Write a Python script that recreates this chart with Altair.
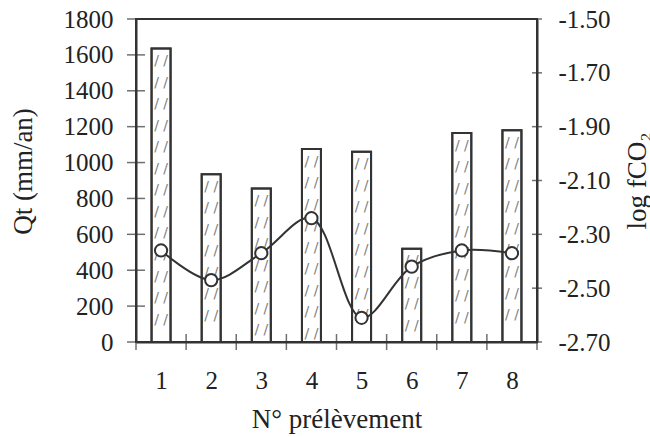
import altair as alt
import pandas as pd

# ---- data ----
samples = [1, 2, 3, 4, 5, 6, 7, 8]
qt = [1635, 935, 855, 1075, 1060, 520, 1165, 1180]            # Qt (mm/an), bars
log_fco2 = [-2.36, -2.47, -2.37, -2.24, -2.61, -2.42, -2.36, -2.37]  # line
qt_ticks = [0, 200, 400, 600, 800, 1000, 1200, 1400, 1600, 1800]
fco2_ticks = [-1.5, -1.7, -1.9, -2.1, -2.3, -2.5, -2.7]
x_bounds = [0.5, 1.5, 2.5, 3.5, 4.5, 5.5, 6.5, 7.5, 8.5]

FONT = "Liberation Serif"
INK = "#333333"
TXT = "#222222"
LBL = 25
TTL = 27

df = pd.DataFrame({"sample": samples, "qt": qt, "fco2": log_fco2})

# hatch rows inside each bar (decoration of the bar fill)
hatch_rows = []
for s, v in zip(samples, qt):
    y = v - 70
    while y > 30:
        hatch_rows.append({"sample": s, "y": y})
        y -= 120
df_hatch = pd.DataFrame(hatch_rows)

df_lt = pd.DataFrame({"x": [x_bounds[0]] * len(qt_ticks), "y": qt_ticks})
df_bt = pd.DataFrame({"x": x_bounds, "y": [qt_ticks[0]] * len(x_bounds)})
df_rt = pd.DataFrame({"x": [x_bounds[-1]] * len(fco2_ticks), "y": fco2_ticks})

xscale = alt.Scale(domain=[x_bounds[0], x_bounds[-1]], nice=False, zero=False, padding=0)
yl_scale = alt.Scale(domain=[qt_ticks[0], qt_ticks[-1]], nice=False, zero=False)
yr_scale = alt.Scale(domain=[fco2_ticks[-1], fco2_ticks[0]], nice=False, zero=False)

x_axis = alt.Axis(
    values=samples, format="d", ticks=False, grid=False, labelOverlap=False,
    domainColor=INK, domainWidth=2, labelAngle=0,
    labelFont=FONT, labelFontSize=LBL, labelColor=TXT, labelPadding=26,
    title="N° prélèvement", titleFont=FONT, titleFontSize=TTL,
    titleFontWeight="normal", titleColor=TXT,
    titleY=85, titleBaseline="alphabetic",
)
yl_axis = alt.Axis(
    values=qt_ticks, format="d", ticks=False, grid=False, labelOverlap=False,
    domainColor=INK, domainWidth=2,
    labelFont=FONT, labelFontSize=LBL, labelColor=TXT, labelPadding=23,
    title="Qt (mm/an)", titleFont=FONT, titleFontSize=TTL,
    titleFontWeight="normal", titleColor=TXT,
    titleAngle=270, titleX=-113, titleY=152, titleBaseline="middle",
)
yr_axis = alt.Axis(
    orient="right", values=fco2_ticks, ticks=False, grid=False, labelOverlap=False,
    labelExpr="'-' + format(-datum.value, '.2f')",
    domainColor=INK, domainWidth=2,
    labelFont=FONT, labelFontSize=LBL, labelColor=TXT, labelPadding=21,
    title="log fCO\u2082", titleFont=FONT, titleFontSize=TTL,
    titleFontWeight="normal", titleColor=TXT,
    titleAngle=270, titleX=100, titleBaseline="middle",
)


def lx(field):
    return alt.X(field, scale=xscale, axis=x_axis)


def ly(field):
    return alt.Y(field, scale=yl_scale, axis=yl_axis)


def ry(field):
    return alt.Y(field, scale=yr_scale, axis=yr_axis)


bars = alt.Chart(df).mark_bar(size=19, fill="white", stroke=INK, strokeWidth=2).encode(
    x=lx("sample:Q"), y=ly("qt:Q"),
)
hatch = alt.Chart(df_hatch).mark_text(
    text="/ /", font="DejaVu Sans", fontSize=14, color="#808080", baseline="middle"
).encode(x=lx("sample:Q"), y=ly("y:Q"))
bars_outline = alt.Chart(df).mark_bar(size=19, fill="transparent", stroke=INK, strokeWidth=2).encode(
    x=lx("sample:Q"), y=ly("qt:Q"),
)
left_ticks = alt.Chart(df_lt).mark_tick(orient="horizontal", size=18, thickness=1.5, color=INK).encode(
    x=lx("x:Q"), y=ly("y:Q"),
)
bottom_ticks = alt.Chart(df_bt).mark_tick(orient="vertical", size=16, thickness=1.5, color=INK).encode(
    x=lx("x:Q"), y=ly("y:Q"),
)
left = alt.layer(bars, hatch, bars_outline, left_ticks, bottom_ticks)

line = alt.Chart(df).mark_line(interpolate="catmull-rom", color=INK, strokeWidth=2).encode(
    x=lx("sample:Q"), y=ry("fco2:Q"),
)
points = alt.Chart(df).mark_point(
    shape="circle", filled=True, fill="white", stroke=INK, strokeWidth=2, size=150, opacity=1
).encode(x=lx("sample:Q"), y=ry("fco2:Q"))
right_ticks = alt.Chart(df_rt).mark_tick(orient="horizontal", size=10, thickness=1.5, color=INK).encode(
    x=lx("x:Q"), y=ry("y:Q"),
)
right = alt.layer(line, points, right_ticks)

chart = (
    alt.layer(left, right)
    .resolve_scale(y="independent")
    .properties(
        width=401, height=323,
        autosize=alt.AutoSizeParams(type="none"),
        padding={"left": 136, "top": 19, "right": 113, "bottom": 95},
        background="white",
    )
    .configure(font=FONT)
    .configure_view(stroke=INK, strokeWidth=2)
    .configure_axis(labelOverlap=False, labelFont=FONT, titleFont=FONT)
)

chart.save("out.html", embed_options={"renderer": "svg", "actions": False})
